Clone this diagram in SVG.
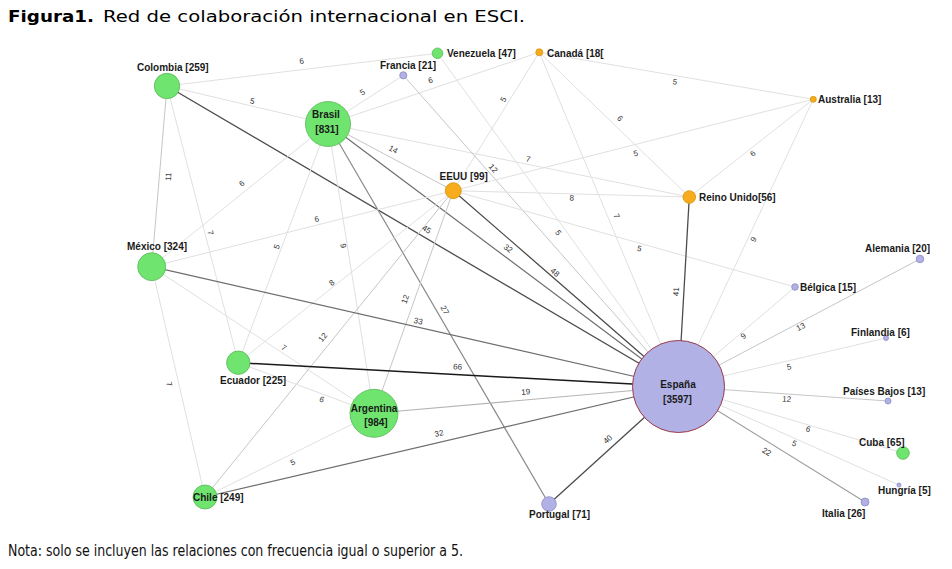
<svg xmlns="http://www.w3.org/2000/svg" width="952" height="569" viewBox="0 0 952 569">
<style>
.bg{fill:#ffffff}
.e{fill:none;stroke-linecap:round}
.w1{stroke:#e0e0e0;stroke-width:1}
.w2{stroke:#c6c6c6;stroke-width:1}
.w3{stroke:#b4b4b4;stroke-width:1.1}
.w4{stroke:#9c9c9c;stroke-width:1.1}
.w5{stroke:#8a8a8a;stroke-width:1.2}
.w6{stroke:#6e6e6e;stroke-width:1.2}
.w7{stroke:#4c4c4c;stroke-width:1.3}
.w8{stroke:#1a1a1a;stroke-width:1.5}
.el{font-family:"Liberation Sans",Arial,sans-serif;font-size:8px;fill:#333333;text-anchor:middle}
.nl{font-family:"Liberation Sans",Arial,sans-serif;font-size:10px;font-weight:bold;fill:#1a1a1a}
.nc{text-anchor:middle}
.g{fill:#6fe46f;stroke:#58b858;stroke-width:0.8}
.o{fill:#f6ac1c;stroke:#d8930c;stroke-width:0.8}
.p{fill:#b1b1e6;stroke:#8a8ac0;stroke-width:0.8}
.es{fill:#b1b1e6;stroke:#9a3a4a;stroke-width:1}
.t{font-family:"DejaVu Sans",Verdana,sans-serif;font-size:16px;fill:#000}
.n{font-family:"DejaVu Sans",Verdana,sans-serif;font-size:16px;fill:#111}
</style>
<rect class="bg" x="0" y="0" width="952" height="569"/>
<text class="t" x="8" y="22" font-weight="bold" textLength="86" lengthAdjust="spacingAndGlyphs">Figura1.</text>
<text class="t" x="103" y="22" textLength="422" lengthAdjust="spacingAndGlyphs">Red de colaboración internacional en ESCI.</text>
<g id="connectors">
<line class="e w1" x1="167" y1="86" x2="437.5" y2="53.3"/>
<line class="e w1" x1="167" y1="86" x2="328" y2="124"/>
<line class="e w2" x1="167" y1="86" x2="151.7" y2="266.7"/>
<line class="e w1" x1="167" y1="86" x2="238.3" y2="362.7"/>
<line class="e w7" x1="167" y1="86" x2="678.5" y2="386.5"/>
<line class="e w1" x1="328" y1="124" x2="403.3" y2="75.3"/>
<line class="e w1" x1="328" y1="124" x2="539.3" y2="52.3"/>
<line class="e w2" x1="328" y1="124" x2="453.3" y2="190.7"/>
<line class="e w1" x1="328" y1="124" x2="689.3" y2="197"/>
<line class="e w6" x1="328" y1="124" x2="678.5" y2="386.5"/>
<line class="e w1" x1="328" y1="124" x2="151.7" y2="266.7"/>
<line class="e w1" x1="328" y1="124" x2="238.3" y2="362.7"/>
<line class="e w1" x1="328" y1="124" x2="374" y2="413.3"/>
<line class="e w5" x1="328" y1="124" x2="549" y2="504"/>
<line class="e w1" x1="539.3" y1="52.3" x2="453.3" y2="190.7"/>
<line class="e w1" x1="539.3" y1="52.3" x2="813.3" y2="99.3"/>
<line class="e w1" x1="539.3" y1="52.3" x2="689.3" y2="197"/>
<line class="e w1" x1="539.3" y1="52.3" x2="678.5" y2="386.5"/>
<line class="e w2" x1="403.3" y1="75.3" x2="678.5" y2="386.5"/>
<line class="e w1" x1="437.5" y1="53.3" x2="678.5" y2="386.5"/>
<line class="e w1" x1="453.3" y1="190.7" x2="813.3" y2="99.3"/>
<line class="e w1" x1="453.3" y1="190.7" x2="689.3" y2="197"/>
<line class="e w7" x1="453.3" y1="190.7" x2="678.5" y2="386.5"/>
<line class="e w1" x1="453.3" y1="190.7" x2="795" y2="287"/>
<line class="e w1" x1="453.3" y1="190.7" x2="151.7" y2="266.7"/>
<line class="e w1" x1="453.3" y1="190.7" x2="238.3" y2="362.7"/>
<line class="e w2" x1="453.3" y1="190.7" x2="205" y2="497"/>
<line class="e w2" x1="453.3" y1="190.7" x2="374" y2="413.3"/>
<line class="e w1" x1="813.3" y1="99.3" x2="689.3" y2="197"/>
<line class="e w1" x1="813.3" y1="99.3" x2="678.5" y2="386.5"/>
<line class="e w7" x1="689.3" y1="197" x2="678.5" y2="386.5"/>
<line class="e w6" x1="151.7" y1="266.7" x2="678.5" y2="386.5"/>
<line class="e w1" x1="151.7" y1="266.7" x2="374" y2="413.3"/>
<line class="e w1" x1="151.7" y1="266.7" x2="205" y2="497"/>
<line class="e w8" x1="238.3" y1="362.7" x2="678.5" y2="386.5"/>
<line class="e w1" x1="238.3" y1="362.7" x2="374" y2="413.3"/>
<line class="e w3" x1="374" y1="413.3" x2="678.5" y2="386.5"/>
<line class="e w1" x1="205" y1="497" x2="374" y2="413.3"/>
<line class="e w6" x1="205" y1="497" x2="678.5" y2="386.5"/>
<line class="e w7" x1="549" y1="504" x2="678.5" y2="386.5"/>
<line class="e w1" x1="795" y1="287" x2="678.5" y2="386.5"/>
<line class="e w2" x1="920" y1="259" x2="678.5" y2="386.5"/>
<line class="e w1" x1="886" y1="338" x2="678.5" y2="386.5"/>
<line class="e w2" x1="888" y1="401" x2="678.5" y2="386.5"/>
<line class="e w1" x1="903" y1="453" x2="678.5" y2="386.5"/>
<line class="e w1" x1="899" y1="485" x2="678.5" y2="386.5"/>
<line class="e w4" x1="865" y1="502" x2="678.5" y2="386.5"/>
<g id="edge-labels">
<text class="el" dy="0.35em" transform="translate(301.7,61) rotate(-6.9)">6</text>
<text class="el" dy="0.35em" transform="translate(252.3,101) rotate(13.3)">5</text>
<text class="el" dy="0.35em" transform="translate(168.3,176.7) rotate(-85.2)">11</text>
<text class="el" dy="0.35em" transform="translate(210.5,232.7) rotate(75.5)">7</text>
<text class="el" dy="0.35em" transform="translate(426.7,229.3) rotate(30.4)">45</text>
<text class="el" dy="0.35em" transform="translate(362.3,92.3) rotate(-32.9)">5</text>
<text class="el" dy="0.35em" transform="translate(430.5,80) rotate(-18.7)">6</text>
<text class="el" dy="0.35em" transform="translate(393.3,149.3) rotate(28)">14</text>
<text class="el" dy="0.35em" transform="translate(528.3,159) rotate(11.4)">7</text>
<text class="el" dy="0.35em" transform="translate(508.3,248.3) rotate(36.8)">32</text>
<text class="el" dy="0.35em" transform="translate(241.7,183.3) rotate(-39)">6</text>
<text class="el" dy="0.35em" transform="translate(276.7,246.7) rotate(-69.4)">5</text>
<text class="el" dy="0.35em" transform="translate(343.3,245.7) rotate(81)">9</text>
<text class="el" dy="0.35em" transform="translate(445,310) rotate(59.8)">27</text>
<text class="el" dy="0.35em" transform="translate(503.3,99.3) rotate(-58.1)">5</text>
<text class="el" dy="0.35em" transform="translate(675,81.7) rotate(9.7)">5</text>
<text class="el" dy="0.35em" transform="translate(620,118.3) rotate(44)">6</text>
<text class="el" dy="0.35em" transform="translate(616.7,216) rotate(67.4)">7</text>
<text class="el" dy="0.35em" transform="translate(493.3,168.3) rotate(48.5)">12</text>
<text class="el" dy="0.35em" transform="translate(558.3,232.7) rotate(54.1)">5</text>
<text class="el" dy="0.35em" transform="translate(635.7,153.3) rotate(-14.2)">5</text>
<text class="el" dy="0.35em" transform="translate(571.7,197.7) rotate(1.5)">8</text>
<text class="el" dy="0.35em" transform="translate(555,272.3) rotate(41)">48</text>
<text class="el" dy="0.35em" transform="translate(639.3,248.3) rotate(15.7)">5</text>
<text class="el" dy="0.35em" transform="translate(316.7,219) rotate(-14.1)">6</text>
<text class="el" dy="0.35em" transform="translate(331.7,282.7) rotate(-38.7)">8</text>
<text class="el" dy="0.35em" transform="translate(322.7,337.3) rotate(-51)">12</text>
<text class="el" dy="0.35em" transform="translate(405,299) rotate(-70.4)">12</text>
<text class="el" dy="0.35em" transform="translate(752.7,153.3) rotate(-38.2)">6</text>
<text class="el" dy="0.35em" transform="translate(753.3,239.3) rotate(-64.9)">9</text>
<text class="el" dy="0.35em" transform="translate(676,291.7) rotate(-86.7)">41</text>
<text class="el" dy="0.35em" transform="translate(418.3,321) rotate(12.8)">33</text>
<text class="el" dy="0.35em" transform="translate(284,347.7) rotate(33.4)">7</text>
<text class="el" dy="0.35em" transform="translate(169.3,384) rotate(77)">7</text>
<text class="el" dy="0.35em" transform="translate(457.7,366.7) rotate(3.1)">66</text>
<text class="el" dy="0.35em" transform="translate(321.7,399.3) rotate(20.5)">6</text>
<text class="el" dy="0.35em" transform="translate(525.7,391.7) rotate(-5)">19</text>
<text class="el" dy="0.35em" transform="translate(292.7,462.3) rotate(-26.3)">5</text>
<text class="el" dy="0.35em" transform="translate(439,433.3) rotate(-13.1)">32</text>
<text class="el" dy="0.35em" transform="translate(607.7,439.3) rotate(-42.2)">40</text>
<text class="el" dy="0.35em" transform="translate(743.3,336) rotate(-40.5)">9</text>
<text class="el" dy="0.35em" transform="translate(800.7,326.7) rotate(-27.8)">13</text>
<text class="el" dy="0.35em" transform="translate(789,366.7) rotate(-13.2)">5</text>
<text class="el" dy="0.35em" transform="translate(786.7,399) rotate(4)">12</text>
<text class="el" dy="0.35em" transform="translate(808.3,429) rotate(16.5)">6</text>
<text class="el" dy="0.35em" transform="translate(794.3,443.3) rotate(24.1)">5</text>
<text class="el" dy="0.35em" transform="translate(766.7,451.7) rotate(31.8)">22</text>
</g>
</g>
<g id="colombia"><circle class="g" cx="167" cy="86" r="12.7"/><text class="nl" x="137" y="71">Colombia [259]</text></g>
<g id="venezuela"><circle class="g" cx="437.5" cy="53.3" r="5.3"/><text class="nl" x="447" y="57">Venezuela [47]</text></g>
<g id="francia"><circle class="p" cx="403.3" cy="75.3" r="3.6"/><text class="nl" x="380" y="69">Francia [21]</text></g>
<g id="canada"><circle class="o" cx="539.3" cy="52.3" r="3.5"/><text class="nl" x="547" y="57">Canadá [18[</text></g>
<g id="australia"><circle class="o" cx="813.3" cy="99.3" r="3"/><text class="nl" x="818" y="103">Australia [13]</text></g>
<g id="brasil"><circle class="g" cx="328" cy="124" r="22.5"/><text class="nl nc" x="326" y="118">Brasil</text><text class="nl nc" x="327" y="133">[831]</text></g>
<g id="eeuu"><circle class="o" cx="453.3" cy="190.7" r="8"/><text class="nl" x="439.5" y="180">EEUU [99]</text></g>
<g id="reino-unido"><circle class="o" cx="689.3" cy="197" r="6.3"/><text class="nl" x="699" y="200.5">Reino Unido[56]</text></g>
<g id="mexico"><circle class="g" cx="151.7" cy="266.7" r="14"/><text class="nl" x="127" y="250">México [324]</text></g>
<g id="ecuador"><circle class="g" cx="238.3" cy="362.7" r="11.7"/><text class="nl" x="220" y="383.5">Ecuador [225]</text></g>
<g id="argentina"><circle class="g" cx="374" cy="413.3" r="24"/><text class="nl nc" x="374" y="412">Argentina</text><text class="nl nc" x="376" y="426">[984]</text></g>
<g id="chile"><circle class="g" cx="205" cy="497" r="12"/><text class="nl" x="193" y="501">Chile [249]</text></g>
<g id="espana"><circle class="es" cx="678.5" cy="386.5" r="46"/><text class="nl nc" x="678" y="388">España</text><text class="nl nc" x="677.5" y="403">[3597]</text></g>
<g id="portugal"><circle class="p" cx="549" cy="504" r="7.3"/><text class="nl" x="529" y="518">Portugal [71]</text></g>
<g id="belgica"><circle class="p" cx="795" cy="287" r="3.3"/><text class="nl" x="800" y="291">Bélgica [15]</text></g>
<g id="alemania"><circle class="p" cx="920" cy="259" r="3.8"/><text class="nl" x="865" y="252">Alemania [20]</text></g>
<g id="finlandia"><circle class="p" cx="886" cy="338" r="2.5"/><text class="nl" x="851" y="336">Finlandia [6]</text></g>
<g id="paises-bajos"><circle class="p" cx="888" cy="401" r="3"/><text class="nl" x="843" y="395">Países Bajos [13]</text></g>
<g id="cuba"><circle class="g" cx="903" cy="453" r="6.3"/><text class="nl" x="859" y="446">Cuba [65]</text></g>
<g id="hungria"><circle class="p" cx="899" cy="485" r="2"/><text class="nl" x="878" y="494">Hungría [5]</text></g>
<g id="italia"><circle class="p" cx="865" cy="502" r="4"/><text class="nl" x="822" y="517">Italia [26]</text></g>
<text class="n" x="8" y="556" textLength="455" lengthAdjust="spacingAndGlyphs">Nota: solo se incluyen las relaciones con frecuencia igual o superior a 5.</text>
</svg>
